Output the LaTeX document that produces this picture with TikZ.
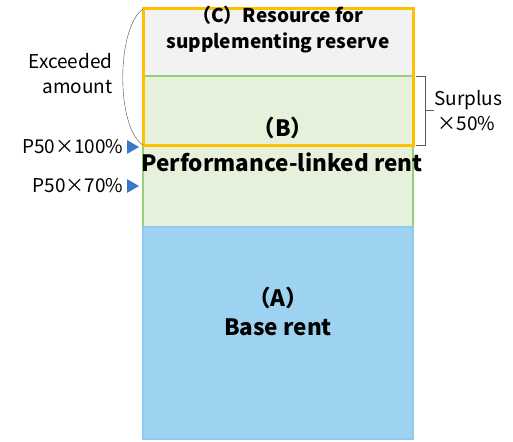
\documentclass[tikz,border=0pt]{standalone}
\usepackage{fontspec}
\setmainfont{Noto Sans CJK JP}
\usepackage{xcolor}
\usetikzlibrary{shapes.geometric}
\definecolor{bandgray}{HTML}{F2F2F2}
\definecolor{bandgreen}{HTML}{E6F1DC}
\definecolor{linegreen}{HTML}{92D07A}
\definecolor{bandblue}{HTML}{9DD3F1}
\definecolor{lineblue}{HTML}{8FCBEF}
\definecolor{orangebox}{HTML}{FFC000}
\definecolor{markblue}{HTML}{3A78C8}
\tikzset{
  band/.style={rectangle, inner sep=0pt, outer sep=0pt, minimum width=270pt},
  bandtxt/.style={font=\bfseries\fontsize{22.5}{29}\selectfont, align=center},
  sidetxt/.style={font=\fontsize{19}{25}\selectfont},
  tri/.style={isosceles triangle, isosceles triangle apex angle=60, fill=markblue, inner sep=0pt, minimum height=12pt, minimum width=13pt}
}

\begin{document}
\begin{tikzpicture}[x=1pt, y=-1pt]
\useasboundingbox (0,0) rectangle (513,441);
% ========= 色带 =========
\node[band, fill=bandgray, minimum height=67pt] (bandC) at (278,42.5) {};
\node[band, fill=bandgreen, draw=linegreen, line width=1.5pt, minimum height=69pt] (bandB) at (278,110.5) {};
\node[band, fill=bandgreen, draw=linegreen, line width=1.5pt, minimum height=82pt] (bandP) at (278,186) {};
\node[band, fill=bandblue, draw=lineblue, line width=1.5pt, minimum height=212pt] (bandA) at (278,333) {};
% 橙色框
\draw[orangebox, line width=3pt] (bandC.north west) rectangle (bandB.south east);

% ========= 文字 =========
\node[bandtxt, font=\bfseries\fontsize{19}{26}\selectfont] (txtC) at (278,30) {（C）Resource for\\supplementing reserve};
\node[bandtxt] (txtB) at (283,128) {（B）};
\node[bandtxt] (txtP) at (282,162) {Performance-linked rent};
\node[bandtxt] (txtA) at (278,311) {（A）\\Base rent};

% ========= 左：超出部分 =========
\node[sidetxt, align=right, anchor=east] (exceed) at (116,74) {Exceeded\\amount};
\draw[black!70, thin] (bandC.north west) .. controls (116,28) and (116,128) .. (bandB.south west);
\node[tri] (m100) at (131,147) {};
\node[sidetxt, anchor=east] (l100) at (m100.west) {P50×100\%};
\node[tri] (m70) at (131,186) {};
\node[sidetxt, anchor=east] (l70) at (m70.west) {P50×70\%};

% ========= 右：剩余 =========
\coordinate (brT) at ([xshift=3pt]bandB.north east);
\coordinate (brB) at ([xshift=3pt]bandB.south east);
\draw[black!65, line width=0.9pt] (brT) -- ++(9,0) |- (brB);
\coordinate (brM) at ([xshift=12pt]bandB.east);
\draw[black!65, line width=0.9pt] (brM) -- ++(9,0) coordinate (brE);
\node[sidetxt, align=left, anchor=west] (surplus) at ([xshift=-3pt]brE) {Surplus\\\,×50\%};
\end{tikzpicture}
\end{document}
